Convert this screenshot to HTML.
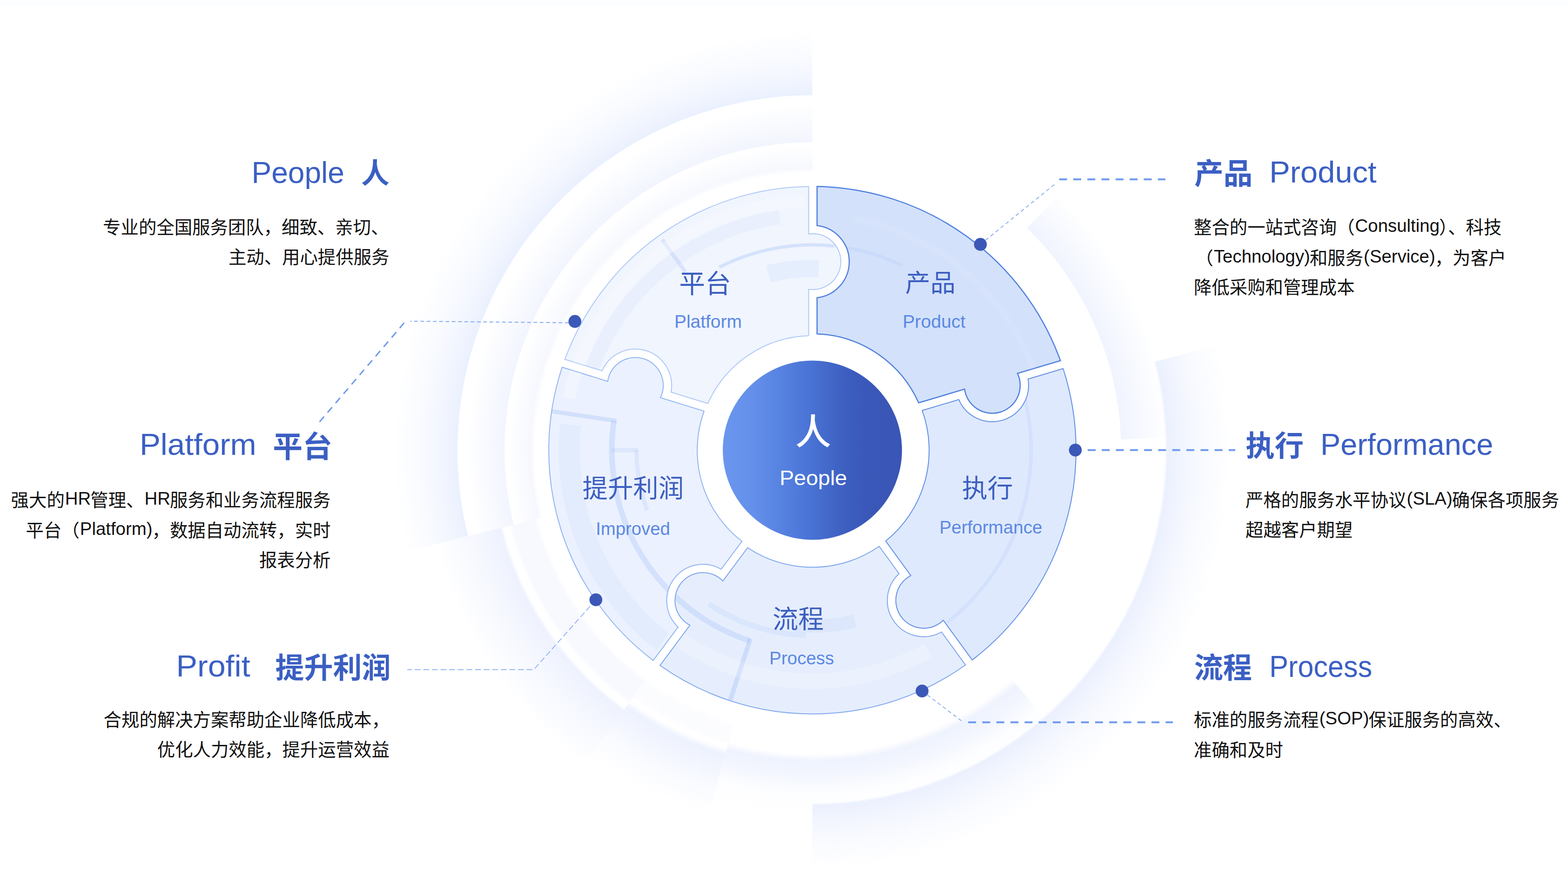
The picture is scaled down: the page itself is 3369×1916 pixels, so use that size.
<!DOCTYPE html><html lang="zh"><head><meta charset="utf-8"><title>5P</title><style>html,body{margin:0;padding:0;background:#fff}body{width:3369px;height:1916px;overflow:hidden;font-family:"Liberation Sans","Noto Sans CJK SC",sans-serif}svg{display:block}text{font-family:"Liberation Sans","Noto Sans CJK SC",sans-serif}</style></head><body>
<svg width="3369" height="1916" viewBox="0 0 3369 1916">
<defs><radialGradient id="ga" gradientUnits="userSpaceOnUse" cx="1745.5" cy="967" r="900"><stop offset="0.8478" stop-color="#eaf0fe" stop-opacity="1"/><stop offset="0.8889" stop-color="#eaf0fe" stop-opacity="0.6"/><stop offset="0.9444" stop-color="#eaf0fe" stop-opacity="0.24"/><stop offset="1.0000" stop-color="#eaf0fe" stop-opacity="0"/></radialGradient><radialGradient id="ga2" gradientUnits="userSpaceOnUse" cx="1745.5" cy="967" r="900"><stop offset="0.8411" stop-color="#ebf0fe" stop-opacity="0"/><stop offset="0.8478" stop-color="#ebf0fe" stop-opacity="1"/><stop offset="0.8889" stop-color="#ebf0fe" stop-opacity="0.6"/><stop offset="0.9444" stop-color="#ebf0fe" stop-opacity="0.24"/><stop offset="1.0000" stop-color="#ebf0fe" stop-opacity="0"/></radialGradient><radialGradient id="gb" gradientUnits="userSpaceOnUse" cx="1745.5" cy="967" r="742"><stop offset="0.8922" stop-color="#f2f5fe" stop-opacity="1"/><stop offset="1.0000" stop-color="#f2f5fe" stop-opacity="0"/></radialGradient><radialGradient id="gb2" gradientUnits="userSpaceOnUse" cx="1745.5" cy="967" r="790"><stop offset="0.8253" stop-color="#eff3fe" stop-opacity="0"/><stop offset="0.8456" stop-color="#eff3fe" stop-opacity="1"/><stop offset="0.8861" stop-color="#eff3fe" stop-opacity="0.72"/><stop offset="0.9342" stop-color="#eff3fe" stop-opacity="0.12"/><stop offset="1.0000" stop-color="#eff3fe" stop-opacity="0"/></radialGradient><radialGradient id="gb3" gradientUnits="userSpaceOnUse" cx="1745.5" cy="967" r="765"><stop offset="0.8680" stop-color="#f0f4fe" stop-opacity="1"/><stop offset="1.0000" stop-color="#f0f4fe" stop-opacity="0"/></radialGradient><radialGradient id="gb4" gradientUnits="userSpaceOnUse" cx="1745.5" cy="967" r="835"><stop offset="0.7257" stop-color="#eef2fe" stop-opacity="0"/><stop offset="0.7377" stop-color="#eef2fe" stop-opacity="0.45"/><stop offset="0.7952" stop-color="#eef2fe" stop-opacity="0.45"/><stop offset="0.8048" stop-color="#eef2fe" stop-opacity="0"/><stop offset="0.8192" stop-color="#eef2fe" stop-opacity="0"/><stop offset="0.8287" stop-color="#eef2fe" stop-opacity="1"/><stop offset="0.8862" stop-color="#eef2fe" stop-opacity="0.62"/><stop offset="1.0000" stop-color="#eef2fe" stop-opacity="0"/></radialGradient><radialGradient id="gb5" gradientUnits="userSpaceOnUse" cx="1745.5" cy="967" r="812"><stop offset="0.7463" stop-color="#eef2fe" stop-opacity="0"/><stop offset="0.7586" stop-color="#eef2fe" stop-opacity="0.2"/><stop offset="0.8005" stop-color="#eef2fe" stop-opacity="0.2"/><stop offset="0.8103" stop-color="#eef2fe" stop-opacity="0"/><stop offset="0.8202" stop-color="#eef2fe" stop-opacity="0"/><stop offset="0.8374" stop-color="#eef2fe" stop-opacity="1"/><stop offset="0.8867" stop-color="#eef2fe" stop-opacity="0.68"/><stop offset="0.9360" stop-color="#eef2fe" stop-opacity="0.3"/><stop offset="1.0000" stop-color="#eef2fe" stop-opacity="0"/></radialGradient><radialGradient id="gcf" gradientUnits="userSpaceOnUse" cx="1745.5" cy="967" r="655"><stop offset="0.9099" stop-color="#f6f8fe" stop-opacity="0"/><stop offset="0.9252" stop-color="#f6f8fe" stop-opacity="1"/><stop offset="1.0000" stop-color="#f6f8fe" stop-opacity="0"/></radialGradient><linearGradient id="gc" x1="0" x2="1" y1="0" y2="0"><stop offset="0" stop-color="#6a96ee"/><stop offset="0.17" stop-color="#6490eb"/><stop offset="0.46" stop-color="#4b76d8"/><stop offset="0.68" stop-color="#3d5fc0"/><stop offset="0.8" stop-color="#3a58b9"/><stop offset="1" stop-color="#3a55b5"/></linearGradient><clipPath id="cw"><path d="M1755.5 717.2L1755.5 639.5A78 78 0 0 0 1755.5 484.5L1755.5 400.6A566.5 566.5 0 0 1 2278.4 774.7L2186.2 802.1A60 60 0 1 1 2072.5 835.9L1973.8 865.2A250 250 0 0 0 1755.5 717.2Z M1981.4 881.7L2060.2 858.3A78 78 0 0 0 2208.8 814.2L2284.2 791.8A566.5 566.5 0 0 1 2088.9 1417.6L2026.8 1332.3A60 60 0 1 1 1957.0 1236.3L1903.0 1162.2A250.8 250.8 0 0 0 1981.4 881.7Z M1889.0 1173.5L1931.7 1232.2A78 78 0 0 0 2022.9 1357.5L2074.4 1428.3A566.5 566.5 0 0 1 1418.1 1429.3L1482.3 1343.0A60 60 0 1 1 1553.1 1247.9L1606.3 1176.5A251.5 251.5 0 0 0 1889.0 1173.5Z M1594.1 1162.8L1549.5 1222.6A78 78 0 0 0 1457.0 1346.9L1403.5 1418.6A566.5 566.5 0 0 1 1207.8 788.8L1305.7 819.1A60 60 0 1 1 1419.0 854.1L1512.7 883.1A247.5 247.5 0 0 0 1594.1 1162.8Z M1520.9 866.7L1441.7 842.3A78 78 0 0 0 1293.6 796.5L1213.7 771.8A566.5 566.5 0 0 1 1737.5 400.6L1737.5 502.7A60 60 0 1 1 1737.5 621.3L1737.5 721.1A246 246 0 0 0 1520.9 866.7Z"/></clipPath></defs>
<path d="M1167.7 1111.1L1110.0 1125.5A655 655 0 0 1 1745.5 312.0L1745.5 371.5A595.5 595.5 0 0 0 1167.7 1111.1Z" fill="url(#gcf)"/>
<path d="M1005.6 1151.5L872.2 1184.7A900 900 0 0 1 1745.5 67.0L1745.5 204.5A762.5 762.5 0 0 0 1005.6 1151.5Z" fill="url(#ga)"/>
<path d="M2477.9 777.6L2616.8 741.7A900 900 0 0 1 1745.5 1867.0L1745.5 1723.5A756.5 756.5 0 0 0 2477.9 777.6Z" fill="url(#ga2)"/>
<path d="M1103.6 1127.0L1025.5 1146.5A742 742 0 0 1 1745.5 225.0L1745.5 305.5A661.5 661.5 0 0 0 1103.6 1127.0Z" fill="url(#gb)"/>
<path d="M2172.9 1458.7L2263.8 1563.2A790 790 0 0 1 1527.7 1726.4L1565.9 1593.3A651.5 651.5 0 0 0 2172.9 1458.7Z" fill="url(#gb2)"/>
<path d="M1578.6 1549.0L1521.7 1747.5A812 812 0 0 1 1268.2 1623.9L1389.6 1456.9A605.5 605.5 0 0 0 1578.6 1549.0Z" fill="url(#gb5)"/>
<path d="M1389.6 1456.9L1254.7 1642.5A835 835 0 0 1 935.3 1169.0L1158.0 1113.5A605.5 605.5 0 0 0 1389.6 1456.9Z" fill="url(#gb4)"/>
<path d="M2206.4 489.7L2276.9 416.7A765 765 0 0 1 2510.0 940.3L2408.6 943.8A663.5 663.5 0 0 0 2206.4 489.7Z" fill="url(#gb3)"/>
<rect id="topstrip" x="0" y="0" width="3369" height="12" fill="#fcfdff"/>
<path d="M1520.9 866.7L1441.7 842.3A78 78 0 0 0 1293.6 796.5L1213.7 771.8A566.5 566.5 0 0 1 1737.5 400.6L1737.5 502.7A60 60 0 1 1 1737.5 621.3L1737.5 721.1A246 246 0 0 0 1520.9 866.7Z" fill="#f0f5fe" stroke="#a8c4f7" stroke-width="1.8" stroke-linejoin="miter"/>
<path d="M1594.1 1162.8L1549.5 1222.6A78 78 0 0 0 1457.0 1346.9L1403.5 1418.6A566.5 566.5 0 0 1 1207.8 788.8L1305.7 819.1A60 60 0 1 1 1419.0 854.1L1512.7 883.1A247.5 247.5 0 0 0 1594.1 1162.8Z" fill="#ebf1fe" stroke="#92b5f3" stroke-width="2" stroke-linejoin="miter"/>
<path d="M1889.0 1173.5L1931.7 1232.2A78 78 0 0 0 2022.9 1357.5L2074.4 1428.3A566.5 566.5 0 0 1 1418.1 1429.3L1482.3 1343.0A60 60 0 1 1 1553.1 1247.9L1606.3 1176.5A251.5 251.5 0 0 0 1889.0 1173.5Z" fill="#e6eefd" stroke="#7fa6ef" stroke-width="2" stroke-linejoin="miter"/>
<path d="M1981.4 881.7L2060.2 858.3A78 78 0 0 0 2208.8 814.2L2284.2 791.8A566.5 566.5 0 0 1 2088.9 1417.6L2026.8 1332.3A60 60 0 1 1 1957.0 1236.3L1903.0 1162.2A250.8 250.8 0 0 0 1981.4 881.7Z" fill="#dfe9fd" stroke="#6390e8" stroke-width="2" stroke-linejoin="miter"/>
<path d="M1755.5 717.2L1755.5 639.5A78 78 0 0 0 1755.5 484.5L1755.5 400.6A566.5 566.5 0 0 1 2278.4 774.7L2186.2 802.1A60 60 0 1 1 2072.5 835.9L1973.8 865.2A250 250 0 0 0 1755.5 717.2Z" fill="#d3e1fb" stroke="#5080df" stroke-width="2.5" stroke-linejoin="miter"/>
<g clip-path="url(#cw)" fill="none"><path d="M1610.9 1376.4A431 431 0 0 1 1319.2 903.3" stroke="rgba(140,175,245,0.24)" stroke-width="12"/><path d="M1731.6 1364.8A398 398 0 0 1 1522.9 1297.0" stroke="rgba(140,175,245,0.13)" stroke-width="12"/><path d="M1612.4 1371.7L1566.8 1510.4" stroke="rgba(140,175,245,0.28)" stroke-width="10"/><path d="M1324.2 904.0L1179.8 882.5" stroke="rgba(140,175,245,0.25)" stroke-width="9"/><path d="M1390.3 1096.3A378 378 0 0 1 1367.5 967.0" stroke="rgba(140,175,245,0.16)" stroke-width="9"/><path d="M1371.5 967.0L1314.5 967.0" stroke="rgba(140,175,245,0.16)" stroke-width="9"/><path d="M1545.3 574.1A441 441 0 0 1 1791.6 528.4" stroke="rgba(140,175,245,0.28)" stroke-width="7"/><path d="M1791.6 528.4A441 441 0 0 1 1938.8 570.6" stroke="rgba(140,175,245,0.12)" stroke-width="7"/><path d="M1472.6 584.4L1422.6 514.4" stroke="rgba(140,175,245,0.22)" stroke-width="8"/><path d="M1655.5 606.0L1646.6 570.1A409 409 0 0 1 1759.8 558.2L1758.5 595.2A372 372 0 0 0 1655.5 606.0Z" fill="rgba(140,175,245,0.10)"/><path d="M1833.6 1320.2L1840.3 1347.4A392 392 0 0 1 1704.5 1356.9L1707.5 1329.0A364 364 0 0 0 1833.6 1320.2Z" fill="rgba(140,175,245,0.10)"/><path d="M1985.5 1382.7L2002.0 1411.3A513 513 0 0 1 1451.3 1387.2L1470.2 1360.2A480 480 0 0 0 1985.5 1382.7Z" fill="rgba(255,255,255,0.22)"/><path d="M1234.9 858.5L1209.5 853.1A548 548 0 0 1 1726.4 419.3L1727.3 445.3A522 522 0 0 0 1234.9 858.5Z" fill="rgba(255,255,255,0.30)"/><path d="M1285.1 799.4L1256.9 789.1A520 520 0 0 1 1673.1 452.1L1677.3 481.8A490 490 0 0 0 1285.1 799.4Z" fill="rgba(140,175,245,0.07)"/><path d="M2201.5 853.3A470 470 0 0 1 2034.9 1337.4" stroke="rgba(140,175,245,0.13)" stroke-width="8"/><path d="M1833.2 469.7A505 505 0 0 1 2220.0 794.3" stroke="rgba(255,255,255,0.09)" stroke-width="14"/><path d="M1437.7 1361.0L1410.0 1396.5A545 545 0 0 1 1203.5 910.0L1248.2 914.7A500 500 0 0 0 1437.7 1361.0Z" fill="rgba(140,175,245,0.08)"/></g>
<circle cx="1745.5" cy="967" r="192.5" fill="url(#gc)"/>
<polyline points="2106.5,524.9 2267,395" fill="none" stroke="#86abf0" stroke-width="1.8" stroke-dasharray="8 6"/>
<polyline points="2275.7,385.3 2504,385.3" fill="none" stroke="#6e9aec" stroke-width="4" stroke-dasharray="17 13.3"/>
<polyline points="2337,966.8 2654,966.8" fill="none" stroke="#6e9aec" stroke-width="4" stroke-dasharray="17 13.3"/>
<polyline points="1981.2,1484.2 2068.4,1550.3" fill="none" stroke="#86abf0" stroke-width="1.8" stroke-dasharray="8 6"/>
<polyline points="2080.2,1551.6 2520,1551.6" fill="none" stroke="#6e9aec" stroke-width="4" stroke-dasharray="17 13.3"/>
<polyline points="1280.3,1288.3 1146.8,1438.3 875,1438.3" fill="none" stroke="#86abf0" stroke-width="1.7" stroke-dasharray="12.5 6"/>
<polyline points="1235.2,693.4 881.4,689.9" fill="none" stroke="#86abf0" stroke-width="2" stroke-dasharray="8 5.5"/>
<polyline points="868.5,693.4 686.2,906.6" fill="none" stroke="#6e9aec" stroke-width="3" stroke-dasharray="15 11.5"/>
<circle cx="2106.5" cy="524.9" r="13.8" fill="#3b58b8"/>
<circle cx="2310.5" cy="966.8" r="13.8" fill="#3b58b8"/>
<circle cx="1981.2" cy="1484.2" r="13.8" fill="#3b58b8"/>
<circle cx="1280.3" cy="1288.3" r="13.8" fill="#3b58b8"/>
<circle cx="1235.2" cy="690.4" r="13.8" fill="#3b58b8"/>
<text x="221.1" y="501.7" font-size="38.4" fill="#111">专业的全国服务团队，细致、亲切、</text>
<text x="490.9" y="566.1" font-size="38.4" fill="#111">主动、用心提供服务</text>
<text font-size="38.4" fill="#111"><tspan x="23.6" y="1087.5">强大的</tspan><tspan x="139.79" y="1083.72" textLength="55.45">HR</tspan><tspan x="194.3" y="1087.5">管理、</tspan><tspan x="310.45" y="1083.72" textLength="55.45">HR</tspan><tspan x="364.9" y="1087.5">服务和业务流程服务</tspan></text>
<text font-size="38.4" fill="#111"><tspan x="55.6" y="1152.6">平台（</tspan><tspan x="171.78" y="1148.82" textLength="155.72">Platform)</tspan><tspan x="326.5" y="1152.6">，数据自动流转，实时</tspan></text>
<text x="556.9" y="1217.3" font-size="38.4" fill="#111">报表分析</text>
<text x="222.6" y="1559.8" font-size="38.4" fill="#111">合规的解决方案帮助企业降低成本，</text>
<text x="337.8" y="1624.1" font-size="38.4" fill="#111">优化人力效能，提升运营效益</text>
<text font-size="38.4" fill="#111"><tspan x="2565.0" y="501.7">整合的一站式咨询（</tspan><tspan x="2911.60" y="497.92" textLength="181.41">Consulting</tspan><tspan x="3092.0" y="501.7">）、科技</tspan></text>
<text font-size="38.4" fill="#111"><tspan x="2568.5" y="567.5">（</tspan><tspan x="2607.90" y="563.72" textLength="207.02">Technology)</tspan><tspan x="2813.9" y="567.5">和服务</tspan><tspan x="2930.12" y="563.72" textLength="153.59">(Service)</tspan><tspan x="3082.7" y="567.5">，为客户</tspan></text>
<text x="2565.0" y="631.2" font-size="38.4" fill="#111">降低采购和管理成本</text>
<text font-size="38.4" fill="#111"><tspan x="2676.0" y="1087.8">严格的服务水平协议</tspan><tspan x="3022.60" y="1084.02" textLength="98.14">(SLA)</tspan><tspan x="3119.8" y="1087.8">确保各项服务</tspan></text>
<text x="2676.0" y="1152.3" font-size="38.4" fill="#111">超越客户期望</text>
<text font-size="38.4" fill="#111"><tspan x="2565.0" y="1559.9">标准的服务流程</tspan><tspan x="2834.80" y="1556.12" textLength="106.66">(SOP)</tspan><tspan x="2940.5" y="1559.9">保证服务的高效、</tspan></text>
<text x="2565.0" y="1624.7" font-size="38.4" fill="#111">准确和及时</text>
<text x="775.98" y="394.25" font-size="60.83" font-weight="bold" fill="#3b5fc3">人</text>
<text x="586.32" y="981.90" font-size="63.82" font-weight="bold" fill="#3b5fc3">平台</text>
<text x="591.52" y="1456.90" font-size="61.98" font-weight="bold" fill="#3b5fc3">提升利润</text>
<text x="2566.17" y="395.01" font-size="62.6" font-weight="bold" fill="#3b5fc3">产品</text>
<text x="2676.37" y="980.00" font-size="62.36" font-weight="bold" fill="#3b5fc3">执行</text>
<text x="2565.68" y="1457.18" font-size="62.2" font-weight="bold" fill="#3b5fc3">流程</text>
<text x="1459.37" y="629.22" font-size="55.76" fill="#3c5ec0">平台</text>
<text x="1944.98" y="627.11" font-size="53.95" fill="#3c5ec0">产品</text>
<text x="2066.96" y="1067.53" font-size="54.72" fill="#3c5ec0">执行</text>
<text x="1659.92" y="1348.65" font-size="54.97" fill="#3c5ec0">流程</text>
<text x="1251.59" y="1068.24" font-size="54.37" fill="#3c5ec0">提升利润</text>
<text x="1708.64" y="954.53" font-size="77.05" font-weight="500" fill="#ffffff">人</text>
<text x="540.6" y="392.9" font-size="64" fill="#3b5fc3" textLength="199.2" lengthAdjust="spacingAndGlyphs">People</text>
<text x="299.9" y="977.3" font-size="64" fill="#3b5fc3" textLength="250.8" lengthAdjust="spacingAndGlyphs">Platform</text>
<text x="378.5" y="1452.9" font-size="64" fill="#3b5fc3" textLength="159.1" lengthAdjust="spacingAndGlyphs">Profit</text>
<text x="2727.2" y="392.0" font-size="64" fill="#3b5fc3" textLength="230.5" lengthAdjust="spacingAndGlyphs">Product</text>
<text x="2836.9" y="977.3" font-size="64" fill="#3b5fc3" textLength="371.4" lengthAdjust="spacingAndGlyphs">Performance</text>
<text x="2727.2" y="1453.5" font-size="64" fill="#3b5fc3" textLength="221.1" lengthAdjust="spacingAndGlyphs">Process</text>
<text x="1449.0" y="703.7" font-size="38" fill="#5b88e2" textLength="144.8" lengthAdjust="spacingAndGlyphs">Platform</text>
<text x="1939.5" y="703.5" font-size="38" fill="#5b88e2" textLength="134.9" lengthAdjust="spacingAndGlyphs">Product</text>
<text x="2018.6" y="1145.9" font-size="38" fill="#5b88e2" textLength="220.8" lengthAdjust="spacingAndGlyphs">Performance</text>
<text x="1653.0" y="1426.6" font-size="38" fill="#5b88e2" textLength="139.1" lengthAdjust="spacingAndGlyphs">Process</text>
<text x="1280.2" y="1148.7" font-size="38" fill="#5b88e2" textLength="159.6" lengthAdjust="spacingAndGlyphs">Improved</text>
<text x="1675.0" y="1042.2" font-size="44.5" fill="#ffffff" textLength="144.9" lengthAdjust="spacingAndGlyphs">People</text>
</svg></body></html>
